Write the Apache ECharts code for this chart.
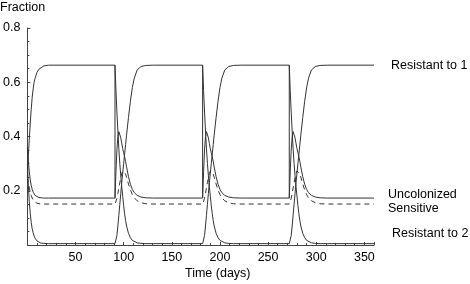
<!DOCTYPE html>
<html>
<head>
<meta charset="utf-8">
<script src="https://cdn.jsdelivr.net/npm/echarts@6/dist/echarts.min.js"></script>
<style>
  html, body { margin: 0; padding: 0; background: #fff; }
  #chart { width: 470px; height: 284px; }
</style>
</head>
<body>
<div id="chart"></div>
<script>
// days where the curves switch (vertical drops)
const switchDays = [91, 182, 272];
const endDay = 360;

// first days, from the starting state
const startDays = [0, 1, 2, 3, 4, 5, 6, 7, 8, 10, 12, 14, 17, 22];
const startR1 = [0.25, 0.33, 0.39, 0.45, 0.5, 0.545, 0.575, 0.6, 0.615, 0.637, 0.648, 0.655, 0.66, 0.663];
const startUncol = [0.36, 0.31, 0.27, 0.24, 0.22, 0.205, 0.195, 0.188, 0.183, 0.178, 0.175, 0.174, 0.173, 0.173];
const startSens = [0.25, 0.23, 0.21, 0.195, 0.183, 0.173, 0.166, 0.161, 0.158, 0.154, 0.152, 0.151, 0.151, 0.151];
const startR2 = [0.3, 0.22, 0.16, 0.115, 0.083, 0.06, 0.045, 0.033, 0.025, 0.015, 0.01, 0.007, 0.006, 0.005];

// days after each switch
const afterDays = [0, 1, 2, 3, 4, 5, 6, 7, 8, 9, 10, 11, 12, 14, 16, 18, 20, 23, 27, 32, 40];
const afterR1 = [0.005, 0.012, 0.035, 0.07, 0.11, 0.15, 0.19, 0.23, 0.265, 0.3, 0.335, 0.37, 0.405, 0.47, 0.53, 0.58, 0.615, 0.645, 0.658, 0.662, 0.663];
const afterUncol = [0.173, 0.27, 0.35, 0.4, 0.418, 0.412, 0.395, 0.375, 0.355, 0.34, 0.325, 0.308, 0.288, 0.252, 0.224, 0.205, 0.193, 0.183, 0.177, 0.174, 0.173];
const afterSens = [0.151, 0.158, 0.172, 0.19, 0.21, 0.23, 0.248, 0.263, 0.273, 0.276, 0.272, 0.262, 0.25, 0.225, 0.203, 0.186, 0.174, 0.163, 0.156, 0.152, 0.151];
const afterR2 = [0.663, 0.57, 0.49, 0.42, 0.355, 0.3, 0.255, 0.215, 0.18, 0.145, 0.115, 0.09, 0.07, 0.043, 0.027, 0.017, 0.012, 0.008, 0.006, 0.005, 0.005];

// levels held between switches
const levelR1 = 0.663;
const levelUncol = 0.173;
const levelSens = 0.151;
const levelR2 = 0.005;

// join the start, the switches and the flat parts into one line
function buildLine(start, after, level, dropTo) {
  let pts = startDays.map((d, i) => [d, start[i]]);
  switchDays.forEach(function (T) {
    pts.push([T, level]);
    if (dropTo !== undefined) pts.push([T, dropTo]);
    if (after[0] !== level) pts.push([T, null]); // break in the line
    afterDays.forEach((d, i) => pts.push([T + d, after[i]]));
  });
  pts.push([endDay, level]);
  return pts;
}

const font = "'Liberation Sans', Arial, sans-serif";
const fontSize = 12.5;
const lineColor = "#333";

function makeSeries(name, data, dashed, labelOffset, labelDist) {
  return {
    name: name,
    type: "line",
    data: data,
    showSymbol: false,
    connectNulls: false,
    lineStyle: {
      color: lineColor,
      width: 1,
      type: dashed ? [5, 4] : "solid"
    },
    endLabel: {
      show: true,
      formatter: name,
      color: "#000",
      fontSize: fontSize,
      fontFamily: font,
      distance: labelDist,
      offset: labelOffset
    }
  };
}

let myChart = echarts.init(document.getElementById("chart"));

let option = {
  animation: false,
  grid: { left: 24, right: 96, top: 28, bottom: 39 },
  xAxis: {
    type: "value",
    min: 0,
    max: endDay,
    interval: 50,
    axisLine: { lineStyle: { color: "#444", width: 1 } },
    axisTick: { inside: true, length: 3, lineStyle: { color: "#444" } },
    minorTick: { show: true, splitNumber: 5, length: 2, lineStyle: { color: "#444" } },
    splitLine: { show: false },
    axisLabel: {
      color: "#000",
      fontSize: fontSize,
      fontFamily: font,
      margin: 6,
      formatter: v => (v === 0 ? "" : v)
    }
  },
  yAxis: {
    type: "value",
    min: 0,
    max: 0.8,
    interval: 0.2,
    axisLine: { show: true, lineStyle: { color: "#444", width: 1 } },
    axisTick: { show: true, inside: true, length: 3, lineStyle: { color: "#444" } },
    minorTick: { show: true, splitNumber: 4, length: 2, lineStyle: { color: "#444" } },
    splitLine: { show: false },
    axisLabel: {
      color: "#000",
      fontSize: fontSize,
      fontFamily: font,
      margin: 7,
      formatter: v => (v === 0 ? "" : v.toFixed(1))
    }
  },
  graphic: [
    {
      type: "text",
      left: 0,
      top: 1,
      style: { text: "Fraction", fill: "#000", font: fontSize + "px " + font }
    },
    {
      type: "text",
      left: 185,
      top: 267,
      style: { text: "Time (days)", fill: "#000", font: fontSize + "px " + font }
    }
  ],
  series: [
    makeSeries("Resistant to 1", buildLine(startR1, afterR1, levelR1, levelUncol), false, [0, 0], 17),
    makeSeries("Uncolonized", buildLine(startUncol, afterUncol, levelUncol), false, [0, -4], 14),
    makeSeries("Sensitive", buildLine(startSens, afterSens, levelSens), true, [0, 5], 14),
    makeSeries("Resistant to 2", buildLine(startR2, afterR2, levelR2), false, [0, -10], 18)
  ]
};

myChart.setOption(option, true);
</script>
</body>
</html>
